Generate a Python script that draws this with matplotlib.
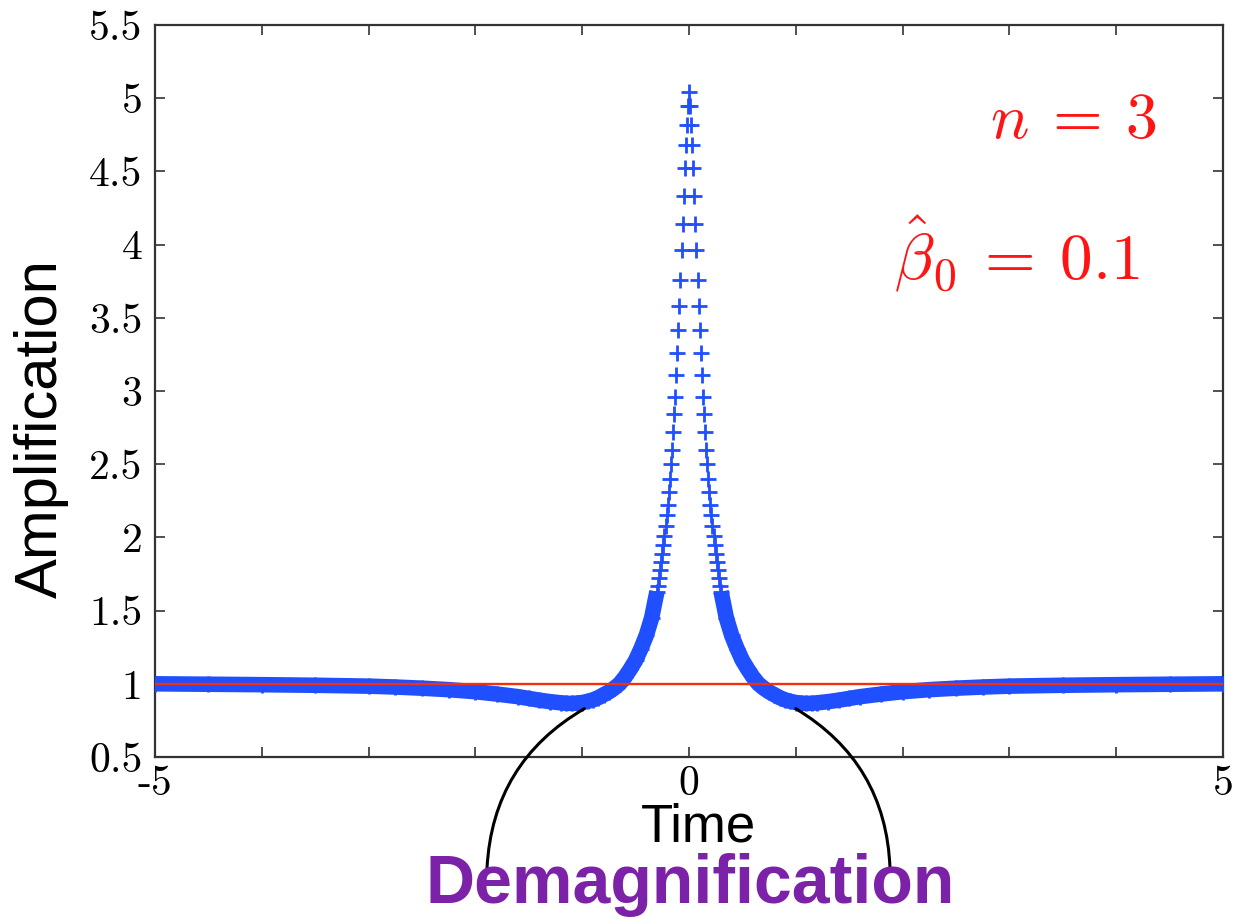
import matplotlib
matplotlib.use("Agg")
import numpy as np
from matplotlib import pyplot as plt

plt.rcParams["mathtext.fontset"] = "cm"

# amplification vs time (curve is symmetric about t = 0)
time_right = [0.00, 0.01, 0.02, 0.03, 0.04, 0.05, 0.06, 0.07, 0.08, 0.09,
              0.10, 0.11, 0.12, 0.13, 0.14, 0.15, 0.16, 0.17, 0.18, 0.19,
              0.20, 0.21, 0.22, 0.23, 0.24, 0.25, 0.26, 0.27, 0.28, 0.29,
              0.30, 0.35, 0.40, 0.45, 0.50, 0.55, 0.60, 0.65, 0.70, 0.75,
              0.80, 0.85, 0.90, 0.95, 1.00, 1.05, 1.10, 1.15, 1.20, 1.30,
              1.40, 1.50, 1.60, 1.80, 2.00, 2.25, 2.50, 2.75, 3.00, 3.50,
              4.00, 4.50, 5.00]
amp_right = [5.04, 4.95, 4.82, 4.68, 4.52, 4.33, 4.14, 3.96, 3.76, 3.58,
             3.42, 3.26, 3.11, 2.96, 2.84, 2.72, 2.60, 2.50, 2.40, 2.31,
             2.22, 2.15, 2.08, 2.01, 1.95, 1.89, 1.83, 1.78, 1.72, 1.67,
             1.63, 1.45, 1.33, 1.24, 1.16, 1.10, 1.045, 1.00, 0.97, 0.945,
             0.925, 0.905, 0.89, 0.88, 0.872, 0.868, 0.866, 0.867, 0.87, 0.878,
             0.888, 0.90, 0.912, 0.93, 0.946, 0.96, 0.97, 0.978, 0.984, 0.99,
             0.994, 0.997, 1.00]
time_left = [-t for t in time_right[:0:-1]]
amp_left = amp_right[:0:-1]

baseline = 1.0
x_ticks = [-5, -4, -3, -2, -1, 0, 1, 2, 3, 4, 5]
x_ticklabels = ["-5", "", "", "", "", "0", "", "", "", "", "5"]
y_ticks = [0.5, 1, 1.5, 2, 2.5, 3, 3.5, 4, 4.5, 5, 5.5]
y_ticklabels = ["0.5", "1", "1.5", "2", "2.5", "3", "3.5", "4", "4.5", "5", "5.5"]

BLUE = "#1f4fff"
W, H = 1236, 917

t = np.array(time_left + time_right)
a = np.array(amp_left + amp_right)

fig = plt.figure(figsize=(W / 100, H / 100), dpi=100)
ax = fig.add_axes([155 / W, 1 - 757 / H, (1223 - 155) / W, (757 - 25) / H])

# solid band where the markers merge
for side in (t <= -0.3, t >= 0.3):
    ax.plot(t[side], a[side], "-", color=BLUE, linewidth=11.2, solid_capstyle="butt", zorder=2)
ax.plot(t, a, "+", color=BLUE, markersize=11.5, markeredgewidth=2.0, zorder=3)
ax.plot([-5, 5], [baseline, baseline], color="#f2300f", linewidth=1.7, zorder=4)

ax.set_xlim(-5, 5)
ax.set_ylim(0.5, 5.5)
ax.set_xticks(x_ticks)
ax.set_xticklabels(x_ticklabels, fontfamily="cmr10", fontsize=30)
ax.set_yticks(y_ticks)
ax.set_yticklabels(y_ticklabels, fontfamily="cmr10", fontsize=30)
ax.tick_params(direction="in", top=True, right=True, length=7, width=1.2, color="#333333")
ax.tick_params(axis="y", pad=9)
ax.tick_params(axis="x", pad=6)
for s in ax.spines.values():
    s.set_linewidth(1.6)
    s.set_color("#333333")

ax.text(4.38, 4.73, r"$n\:=\:3$", color="#ff1414", fontsize=46, ha="right", va="baseline")
ax.text(4.22, 3.76, r"$\hat{\beta}_0\:=\:0.1$", color="#ff1414", fontsize=47, ha="right", va="baseline")

fig.text(41 / W, 1 - 429 / H, "Amplification", rotation=90, ha="center", va="center",
         fontfamily="Liberation Sans", fontsize=43)
fig.text(698 / W, 1 - 842 / H, "Time", ha="center", va="baseline",
         fontfamily="Liberation Sans", fontsize=38)
fig.text(690 / W, 1 - 903 / H, "Demagnification", ha="center", va="baseline",
         fontfamily="Liberation Sans", fontweight="bold", fontsize=49, color="#7b22a8")

# curved pointers from the label to the two dips
ax.annotate("", xy=(-0.98, 0.83), xytext=(487 / W, 1 - 868 / H), textcoords="figure fraction",
            arrowprops=dict(arrowstyle="-", color="black", linewidth=2.2,
                            connectionstyle="arc3,rad=-0.27", shrinkA=0, shrinkB=0),
            annotation_clip=False)
ax.annotate("", xy=(1.0, 0.83), xytext=(890 / W, 1 - 868 / H), textcoords="figure fraction",
            arrowprops=dict(arrowstyle="-", color="black", linewidth=2.2,
                            connectionstyle="arc3,rad=0.27", shrinkA=0, shrinkB=0),
            annotation_clip=False)

fig.savefig("out.png", dpi=100, facecolor="white")
